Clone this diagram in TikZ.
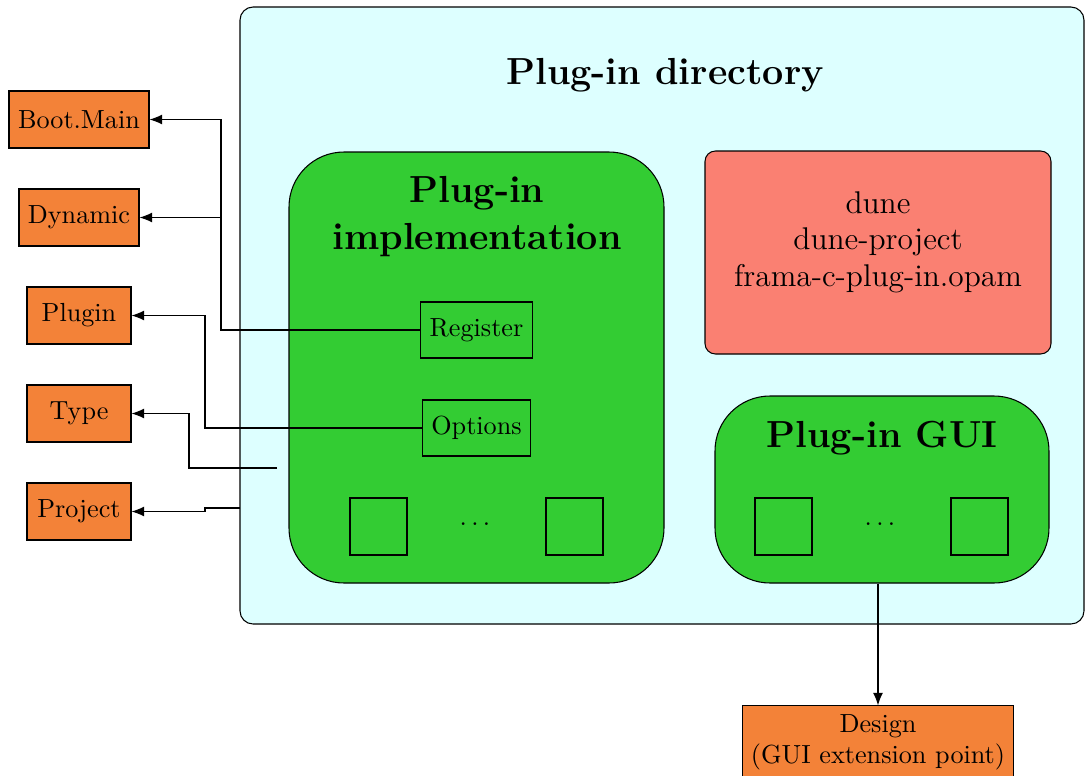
\documentclass[tikz,border=0pt]{standalone}
\usetikzlibrary{arrows.meta}
\newcommand\pxu{0.382pt}
\definecolor{dircyan}{RGB}{221,255,255}
\definecolor{implgreen}{RGB}{51,204,51}
\definecolor{extorange}{RGB}{243,130,56}
\definecolor{dunesalmon}{RGB}{250,128,114}
\tikzset{
  ext/.style={draw, fill=extorange, minimum height=57*\pxu, inner sep=3.33pt},
  inbox/.style={draw, minimum height=56*\pxu, inner sep=3.33pt},
  sq/.style={draw, minimum size=57*\pxu, inner sep=0pt},
  conn/.style={-{Latex[length=4.8pt,width=3.8pt]}},
  bigtitle/.style={font=\Large\bfseries, align=center},
}
\begin{document}
\begin{tikzpicture}[x=0.382pt, y=-0.382pt]
\useasboundingbox (0,0) rectangle (1085,776);
% plug-in directory
\node[draw, fill=dircyan, rounded corners=5pt, minimum width=844*\pxu, minimum height=617*\pxu] (dir) at (662,315.5) {};
\node[bigtitle] (dirtitle) at (665,75) {Plug-in directory};
% implementation
\node[draw, fill=implgreen, rounded corners=21pt, minimum width=375*\pxu, minimum height=431*\pxu] (impl) at (476.5,367.5) {};
\node[bigtitle] (impltitle) at (477,217) {Plug-in\\implementation};
\node[inbox, minimum width=111*\pxu] (reg) at (476.5,330) {Register};
\node[inbox, minimum width=107*\pxu] (opt) at (476.5,428) {Options};
\node[sq] (isq1) at (378.5,526.5) {};
\node[sq] (isq2) at (574.5,526.5) {};
\node (idots) at (475,524) {$\ldots$};
% dune files
\node[draw, fill=dunesalmon, rounded corners=4pt, minimum width=346*\pxu, minimum height=203*\pxu] (dune) at (878,252.5) {};
\node[font=\large, align=center] (dunetext) at (878,242) {dune\\dune-project\\frama-c-plug-in.opam};
% GUI
\node[draw, fill=implgreen, rounded corners=21pt, minimum width=334*\pxu, minimum height=187*\pxu] (gui) at (882,489.5) {};
\node[bigtitle] (guititle) at (882,438) {Plug-in GUI};
\node[sq] (gsq1) at (783.5,526.5) {};
\node[sq] (gsq2) at (979.5,526.5) {};
\node (gdots) at (880,524) {$\ldots$};
% external modules
\node[ext, minimum width=140*\pxu] (boot) at (79,119.5) {Boot.Main};
\node[ext, minimum width=120*\pxu] (dyn) at (79,217.5) {Dynamic};
\node[ext, minimum width=104*\pxu] (plug) at (79,315.5) {Plugin};
\node[ext, minimum width=104*\pxu] (type) at (79,413.5) {Type};
\node[ext, minimum width=104*\pxu] (proj) at (79,511.5) {Project};
\node[ext, align=center, minimum width=270*\pxu] (design) at (878,742.5) {Design\\(GUI extension point)};
% connectors
\coordinate (regbend) at (221,330);
\draw[conn] (reg.west) -- (regbend) |- (boot.east);
\draw[conn] (regbend |- dyn.east) -- (dyn.east);
\draw[conn] (opt.west) -- (205,428) |- (plug.east);
\coordinate (typestart) at (277,468);
\draw[conn] (typestart) -- (189,468) |- (type.east);
\coordinate (projstart) at (240,508);
\draw[conn] (projstart) -- (205,508) -- (205,511.5) -- (proj.east);
\draw[conn] (design.north |- gui.south) -- (design.north);
\end{tikzpicture}
\end{document}
